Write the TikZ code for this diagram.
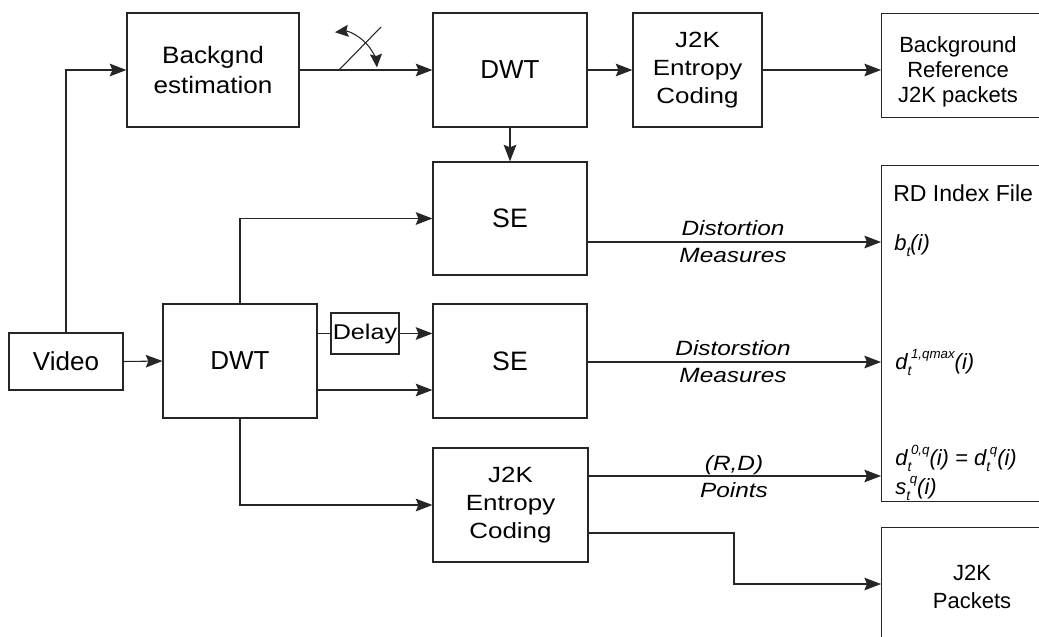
\documentclass[tikz,border=0pt]{standalone}
\usepackage{fontspec}
\setmainfont{Liberation Sans}
\newfontfamily\wideA[FakeStretch=1.18]{Liberation Sans}
\newfontfamily\wideB[FakeStretch=1.1]{Liberation Sans}
\usetikzlibrary{arrows.meta}
\newcommand\sbx[1]{\raisebox{-0.28em}{\fontsize{10.5}{12}\selectfont #1}}
\newcommand\spx[1]{\raisebox{0.5em}{\fontsize{10}{12}\selectfont #1}}
\newcommand\stk[2]{\sbx{#1}\kern-0.3pt\spx{#2}}
\begin{document}
\begin{tikzpicture}[x=0.75pt,y=-0.75pt,
  box/.style={draw=black!85, line width=0.9pt, rectangle, inner sep=0pt, align=center},
  conn/.style={draw=black!85, line width=0.8pt, -{Stealth[length=12.5pt,width=9.5pt,inset=2pt]}},
  wire/.style={draw=black!85, line width=0.8pt},
  swarr/.style={draw=black!85, line width=0.8pt, {Stealth[length=10pt,width=9pt,inset=1.5pt]}-{Stealth[length=10pt,width=9pt,inset=1.5pt]}},
  lbl/.style={font=\wideA\fontsize{15.5}{18}\selectfont\itshape, inner sep=0pt, anchor=base},
  rtxt/.style={font=\fontsize{17.3}{19}\selectfont, inner sep=0pt, anchor=base west},
  rmath/.style={font=\fontsize{16.5}{19}\selectfont\itshape, inner sep=0pt, anchor=base west},
]
\useasboundingbox (0,0) rectangle (1039,636);
\clip (0,0) rectangle (1039,636);
\fill[white] (0,0) rectangle (1039,636);

% boxes
\node[box, minimum width=85.5pt, minimum height=42.75pt, font=\fontsize{19.5}{23}\selectfont] (video) at (66,361.5) {Video};
\node[box, minimum width=129pt, minimum height=85.5pt, font=\wideB\fontsize{17.8}{22.5}\selectfont] (bg) at (213,70) {Backgnd\\estimation};
\node[box, minimum width=115.5pt, minimum height=85.5pt, font=\fontsize{19.5}{23}\selectfont] (dwt1) at (510,70) {DWT};
\node[box, minimum width=96.75pt, minimum height=85.5pt, font=\wideA\fontsize{16.5}{21}\selectfont] (j2k1) at (697.5,70) {J2K\\Entropy\\Coding};
\node[box, minimum width=115.5pt, minimum height=84.75pt, font=\fontsize{20}{24}\selectfont] (se1) at (510,218.5) {SE};
\node[box, minimum width=115.5pt, minimum height=85.5pt, font=\fontsize{20}{24}\selectfont] (se2) at (510,361) {SE};
\node[box, minimum width=116.25pt, minimum height=85.5pt, font=\wideA\fontsize{16.5}{21}\selectfont] (j2k2) at (510.5,505) {J2K\\Entropy\\Coding};
\node[box, minimum width=115.5pt, minimum height=85.5pt, font=\fontsize{19.5}{23}\selectfont] (dwt2) at (240,361) {DWT};
\node[box, minimum width=51pt, minimum height=30.75pt, font=\wideA\fontsize{16}{19}\selectfont] (delay) at (365,333.5) {Delay};

% right column boxes (running off the page)
\node[box, anchor=north west, minimum width=165pt, minimum height=78pt] (bref) at (881,13) {};
\node[box, anchor=north west, minimum width=165pt, minimum height=252pt] (rd) at (881,165) {};
\node[box, anchor=north west, minimum width=165pt, minimum height=120pt] (pk) at (881,527) {};

% right column texts
\node[font=\fontsize{16.5}{18.75}\selectfont, align=center, inner sep=0pt] (breft) at (958,72) {Background\\Reference\\J2K packets};
\node[rtxt] (rdt) at (893,201.5) {RD Index File};
\node[rmath] (bt) at (894,250) {b\sbx{t}(i)};
\node[rmath] (dq) at (895,369) {d\stk{t}{1,qmax}(i)};
\node[rmath] (d0) at (895,465) {d\stk{t}{0,q}(i) = d\stk{t}{q}(i)};
\node[rmath] (sq) at (895,494) {s\stk{t}{q}(i)};
\node[font=\fontsize{16.5}{21}\selectfont, align=center, inner sep=0pt] (pkt) at (972,587) {J2K\\Packets};

% connectors
\draw[conn] (video.north) |- (bg.west);
\draw[conn] (video.east) -- (dwt2.west);

\coordinate (pv) at (339,70);
\draw[wire] (bg.east) -- (pv);
\draw[conn] (pv) -- (dwt1.west);
\draw[wire] (pv) -- ++(42,-43);
\draw[swarr] (pv) ++(-96:38) arc[start angle=-96, end angle=-4, radius=38];

\draw[conn] (dwt1.east) -- (j2k1.west);
\draw[conn] (j2k1.east) -- (bref.west |- j2k1.east);
\draw[conn] (dwt1.south) -- (se1.north);

\draw[conn] (dwt2.north) |- (se1.west);
\draw[wire] (dwt2.east |- delay.west) -- (delay.west);
\draw[conn] (delay.east) -- (se2.west |- delay.east);
\coordinate (lo) at (0,390);
\draw[conn] (dwt2.east |- lo) -- (se2.west |- lo);
\draw[conn] (dwt2.south) |- (j2k2.west);

\coordinate (y1) at (0,242);
\draw[conn] (se1.east |- y1) -- (rd.west |- y1);
\node[lbl] (l1a) at (733,235.5) {Distortion};
\node[lbl] (l1b) at (733,262.5) {Measures};

\coordinate (y2) at (0,362);
\draw[conn] (se2.east |- y2) -- (rd.west |- y2);
\node[lbl] (l2a) at (733,355.5) {Distorstion};
\node[lbl] (l2b) at (733,382.5) {Measures};

\coordinate (y3) at (0,476);
\draw[conn] (j2k2.east |- y3) -- (rd.west |- y3);
\node[lbl] (l3a) at (734,470) {(R,D)};
\node[lbl] (l3b) at (734,497.5) {Points};

\coordinate (y4) at (0,533);
\coordinate (bend) at (734,584);
\draw[conn] (j2k2.east |- y4) -| (bend) -- (pk.west |- bend);
\end{tikzpicture}
\end{document}
